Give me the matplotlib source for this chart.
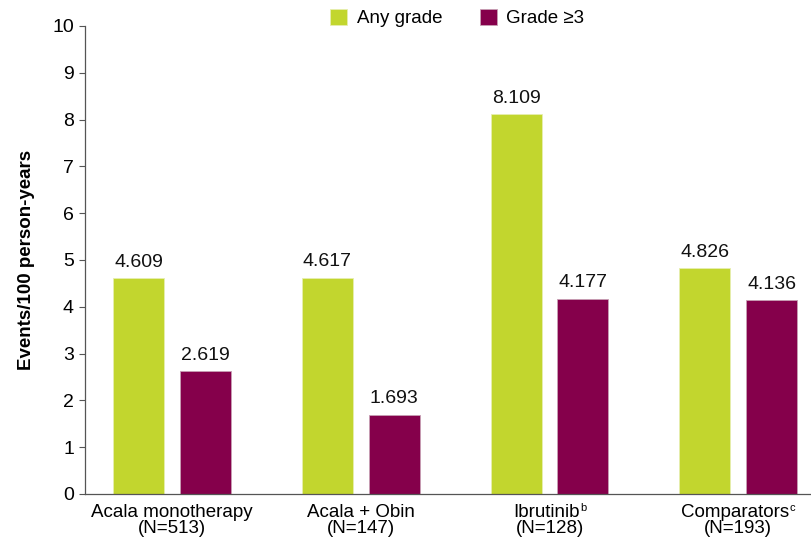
import matplotlib
matplotlib.use('Agg')
import matplotlib.pyplot as plt
import matplotlib.transforms as mtransforms
import numpy as np

plt.rcParams['font.family'] = ['Liberation Sans', 'DejaVu Sans']

groups = ['Acala monotherapy', 'Acala + Obin', 'Ibrutinib', 'Comparators']
group_sup = ['', '', 'b', 'c']
group_n = ['(N=513)', '(N=147)', '(N=128)', '(N=193)']
any_grade = [4.609, 4.617, 8.109, 4.826]
grade3 = [2.619, 1.693, 4.177, 4.136]
series_names = ['Any grade', 'Grade \u22653']

lime = '#c2d62e'
maroon = '#85004b'

fig = plt.figure(figsize=(8.12, 5.38), dpi=100)
ax = fig.add_axes([0.1047, 0.0818, 0.8953, 0.8699])

x = np.arange(len(groups))
w = 0.27
off = 0.177
b1 = ax.bar(x - off, any_grade, w, color=lime, edgecolor='#e6eeb0', linewidth=0.6, label=series_names[0])
b2 = ax.bar(x + off, grade3, w, color=maroon, edgecolor='#c8a0b4', linewidth=0.6, label=series_names[1])

for bars, vals in [(b1, any_grade), (b2, grade3)]:
    for r, v in zip(bars, vals):
        ax.text(r.get_x() + r.get_width() / 2, v + 0.16, f'{v:.3f}',
                ha='center', va='bottom', fontsize=14, color='#111111')

ax.set_xlim(-0.46, 3.39)
ax.set_ylim(0, 10)
ax.set_yticks(range(0, 11))
ax.set_xticks(x)
ax.set_xticklabels([])
ax.tick_params(axis='x', length=0)
ax.tick_params(axis='y', labelsize=14, length=4, width=0.8, color='#555555', pad=4)
for s in ['top', 'right']:
    ax.spines[s].set_visible(False)
for s in ['left', 'bottom']:
    ax.spines[s].set_color('#555555')
    ax.spines[s].set_linewidth(0.9)

ax.set_ylabel('Events/100 person-years', fontsize=13.5, fontweight='bold', labelpad=12)

fig.legend(handles=[b1, b2], loc='center', bbox_to_anchor=(0.563, 0.966), ncol=2,
           frameon=False, fontsize=13.5, handlelength=0.9, handleheight=0.9,
           handletextpad=0.5, columnspacing=2.0)

# two-line category labels; superscript drawn as its own small text
trans = mtransforms.blended_transform_factory(ax.transData, ax.transAxes)
fig.canvas.draw()
renderer = fig.canvas.get_renderer()
for xi, name, sup, n in zip(x, groups, group_sup, group_n):
    ax.text(xi, -0.084, n, transform=trans, ha='center', va='baseline', fontsize=13.5)
    t = ax.text(xi, -0.049, name, transform=trans, ha='center', va='baseline', fontsize=13.5)
    if sup:
        s = ax.text(0, 0, sup, fontsize=8)
        sw = s.get_window_extent(renderer).width
        s.remove()
        shift = -sw / 2 * 72 / fig.dpi
        t.set_transform(mtransforms.offset_copy(trans, fig=fig, x=shift, units='points'))
        tw = t.get_window_extent(renderer).width * 72 / fig.dpi
        ax.text(xi, -0.049, sup, fontsize=8, ha='left', va='baseline',
                transform=mtransforms.offset_copy(trans, fig=fig, x=shift + tw / 2 + 0.2, y=4.5, units='points'))

fig.savefig('out.png', dpi=100)
